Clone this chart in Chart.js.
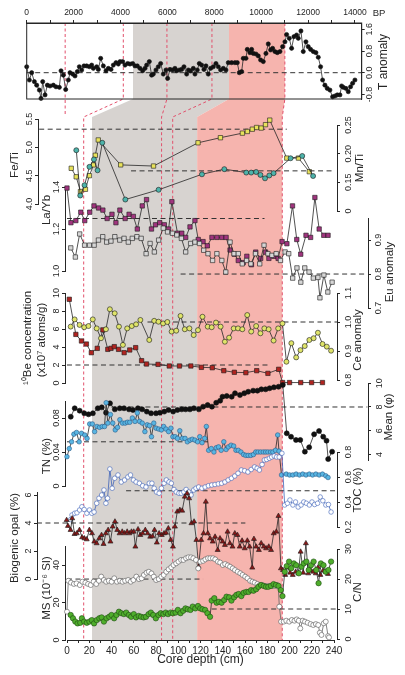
<!DOCTYPE html>
<html>
<head>
<meta charset="utf-8">
<title>Core proxies vs depth</title>
<script src="https://cdn.jsdelivr.net/npm/chart.js@4.4.1/dist/chart.umd.min.js"></script>
<style>
  html, body { margin: 0; padding: 0; background: #fff; }
  #stage { position: relative; width: 405px; height: 675px; overflow: hidden; background: #fff; }
  #stage canvas { position: absolute; left: 0; top: 0; }
</style>
</head>
<body>
<div id="stage"></div>
<script>
// ==========================================
// DATA
// ==========================================

// Top panel: temperature anomaly vs age (yr BP)
const bpAge = [0,114,213,327,426,540,611,682,782,881, 995,1137,1250,1393,1464,1563,1663,1776,1847,1961,
  2060,2160,2245,2345,2444,2558,2671,2771,2842,2984, 3055,3155,3268,3382,3481,3595,3695,3808,3908,3979,
  4092,4192,4306,4405,4519,4618,4718,4831,4945,5044, 5115,5229,5328,5400,5513,5612,5712,5826,5939,6010,
  6110,6224,6323,6394,6508,6607,6707,6821,6892,6991, 7105,7176,7275,7361,7460,7560,7645,7744,7844,7958,
  8071,8171,8270,8384,8498,8597,8739,8881,8981,9066, 9166,9237,9350,9407,9521,9592,9663,9776,9876,9975,
  10089,10203,10302,10402,10487,10586,10686,10800,10913,11013, 11084,11198,11297,11397,11510,11581,11695,11794,11908,12007,
  12107,12221,12334,12434,12533,12618,12718,12817,12931,13045, 13144,13244,13358,13429,13500,13613,13713,13812,13898,13997];
const tAnom = [0.22,-0.27,0,-0.33,-0.46,-0.64,-0.95,-0.33,-0.82,-0.46, -0.49,-0.46,-0.52,-0.54,0.07,-0.09,-0.62,-0.27,0,-0.05,
  -0.12,0.04,0.22,0.1,0.25,0.25,0.22,0.28,0.16,0.22, 0.12,0.53,0.25,0.07,0.16,0.12,0.28,0.37,0.32,0.41,
  0.41,0.28,0.34,0.32,0.34,0.25,0.25,0.16,0.07,0.16, 0.28,0.41,-0.09,-0.05,0.1,0.22,0.34,-0.05,0.1,-0.21,
  0.12,0.1,0.16,0.07,0.1,0.12,0.22,-0.05,0.1,0.07, 0.16,-0.05,0.1,0.34,0.28,0.12,0.25,-0.05,0.16,0.22,
  0.34,0.22,0.1,0.16,0.1,0.37,0.37,0.37,0.37,0, 0.04,0.53,0.53,0.86,0.74,0.86,0.71,0.69,0.62,0.47,
  0.41,0.71,1.06,0.84,0.9,0.78,0.74,0.78,0.96,1.14, 1.41,1.27,0.9,1.33,1.39,1.27,1.54,0.78,1.14,0.96,
  0.86,0.78,0.74,0.57,0.22,-0.27,-0.46,-0.58,-0.64,-0.89, -0.86,-0.82,-0.82,-0.49,-0.54,-0.58,-0.70,-0.52,-0.39,-0.27];

// Fe/Ti and Mn/Ti
const feDepth = [4.2,8.7,12.6,17.1,20.7,24.5,26.1,28.8,49.2,79.1,119.6,140,160,164.5,169,172.9,177.1,181,184.9,200.4,211,220.9];
const feTi = [4.63,4.48,4.22,4.26,4.5,4.69,4.86,5.13,4.69,4.67,5.08,5.17,5.25,5.28,5.32,5.35,5.34,5.4,5.48,4.81,4.81,4.57];
const mnDepth = [5.1,8.7,12.6,17.1,21.2,24.5,28.8,49.8,80.1,119.6,140,160,164.5,169,172.9,177.1,181,184.9,200.4,211,220.9];
const mnTi = [0.206,0.127,0.145,0.177,0.19,0.171,0.219,0.12,0.137,0.164,0.173,0.167,0.167,0.168,0.163,0.157,0.162,0.166,0.192,0.196,0.161];

// La/Yb
const laDepth = [0,3.6,8.1,12.6,16.2,20.7,24.6,28.8,32.7,36.6, 41,44.6,48.2,53,56.6,60.5,64.1,68.6,72.5,77,
  80.6,84.5,88.7,92.6,95.6,100.7,104.6,108.2,112.1,116.6, 119.6,124,127.9,132.1,136.6,141.1,145,148.6,152.5,156.1,
  160.6,163.9,168.1,172,176.5,181,184,188.5,192.4,196, 200.4,205.5,209.4,213,217.8,222,225.9,229.8,234,237.9];
const laYb = [1.395,1.23,1.24,1.28,1.24,1.28,1.31,1.30,1.29,1.25, 1.27,1.23,1.29,1.25,1.27,1.26,1.2,1.31,1.34,1.2,
  1.22,1.23,1.22,1.2,1.33,1.18,1.18,1.16,1.21,1.24, 1.15,1.14,1.12,1.16,1.16,1.16,1.16,1.1,1.08,1.05,
  1.04,1.07,1.03,1.09,1.06,1.09,1.06,1.07,1.06,1.14, 1.13,1.31,1.15,1.08,1.17,1.16,1.35,1.2,1.17,1.17];

// Eu anomaly
const euDepth = [0,4.2,8.1,12.6,17.1,21.3,25.2,29.1,32.7,36.6, 40.1,44.6,48.5,52.4,56,60.2,64.1,68.6,72.2,76.1,
  80,84.2,88.1,92.6,96.5,100.7,104.6,109.1,113,117.2, 121,124.9,129.1,133,137.5,141.1,145,148.6,152.5,156.1,
  160,163.9,168.1,172,175.9,179.5,183.1,187,190.9,195.1, 198.4,202,205.9,209.4,213,216.9,220.8,225,226.8,230.4, 234,237.9];
const euAnom = [0.877,0.85,0.918,0.885,0.885,0.885,0.9,0.91,0.894,0.897, 0.91,0.9,0.905,0.894,0.905,0.91,0.905,0.86,0.89,0.865,
  0.9,0.935,0.924,0.92,0.915,0.905,0.865,0.89,0.894,0.89, 0.87,0.86,0.84,0.86,0.84,0.806,0.894,0.86,0.86,0.83,
  0.84,0.83,0.86,0.83,0.885,0.86,0.855,0.86,0.84,0.865, 0.86,0.788,0.818,0.776,0.818,0.806,0.788,0.79,0.73,0.797, 0.747,0.776];

// 10Be concentration
const beDepth = [2.1,8.1,13.2,17.7,22.2,27.6,32.7,37.2,40.1,43.1, 47,52.1,57.2,62.6,68,72.5,83,93.2,102.5,112.9,
  122.5,132.4,142.9,152.5,163,172.9,183.1,192.9,196.5,202.8, 213,222.9,232.8];
const beConc = [9.3,5.4,4.67,4.33,3.37,3.85,5.9,3.74,3.85,4.04, 3.74,3.37,3.67,3.93,2.48,2.11,2.07,1.89,1.89,1.89,
  1.74,1.7,1.37,1.19,1.15,1.37,1.07,1.52,0.05,0.05, 0.05,0.05,0.05];

// Ce anomaly
const ceDepth = [0,3.6,8.1,12.3,16.2,20.1,23.7,27.6,32.1,35.7, 40.1,44,47.6,51.5,55.7,59.6,63.5,71.6,76.1,80,
  84.2,88.1,92,96.2,100.1,104,108.2,112.1,116,120.1, 124.9,128.5,132.4,136.6,140.5,144.4,148.6,152.5,156.4,160.9,
  164.5,169,172.9,176.5,180.4,184.9,189.1,193,196.6,201.1, 205.5,209.4,213.3,217.5,221.4,225.3,229.5,233.4,237.3];
const ceAnom = [0.984,1.009,0.99,0.982,0.986,1.009,0.978,0.944,0.975,1.044, 1.03,0.984,0.921,0.978,0.986,0.992,1.007,0.938,1.004,1.001,
  0.995,1.0,0.967,0.97,1.021,0.975,0.978,0.955,0.972,1.018, 0.984,0.982,0.998,0.984,0.932,0.946,0.978,0.978,0.975,1.024,
  0.967,0.986,0.961,0.978,0.975,0.936,0.978,0.995,0.863,0.927, 0.878,0.903,0.917,0.938,0.944,0.963,0.924,0.915,0.901];

// Mean grain size (phi)
const meanDepth = [0,3.6,8.1,12.3,16.2,20.1,24.6,28.2,32.1,35.7, 40.1,44.6,48.5,53,56.6,61.1,65,69.2,73.1,77.6,
  81.2,85.1,89,93.2,97.1,101,104.6,108.5,112.1,116.6, 120.5,124.6,128.5,132.4,136,138.1,142,146.5,149.5,154,
  157.9,161.5,166,169.9,173.5,177.4,181,184.9,189.1,193, 196.6,200.5,205,208.9,213.1,217,221.5,226,229.8,232.8, 234.3,237.9];
const meanPhi = [7.18,7.89,7.69,7.47,7.38,7.47,7.89,7.97,7.52,8.31, 7.8,7.89,7.89,7.8,7.75,7.89,7.8,7.61,7.47,7.47,
  7.52,7.61,7.75,7.61,7.75,7.8,7.8,7.8,7.89,7.8, 8.03,8.17,8.03,8.36,8.53,8.87,8.93,8.87,9.16,9.01,
  9.16,9.29,9.38,9.38,9.49,9.49,9.58,9.66,9.71,9.86, 5.78,5.49,5.22,5.22,4.23,4.6,5.7,5.97,5.49,5.16, 3.6,4.23];

// TN (%)
const tnDepth = [0,2.1,4.2,6.3,8.7,11.1,13.2,16.2,18.3,20.7, 23.1,25.2,27.3,29.7,32.1,34.2,35.7,37.2,39.6,41.7,
  44.0,46.1,48.2,50.6,53.0,55.1,57.2,59.6,62.0,64.1, 66.2,68.6,71.0,73.1,75.2,77.0,79.1,81.2,83.6,86.0,
  88.1,90.2,92.6,94.7,96.5,98.6,100.7,102.8,105.2,107.6, 109.7,112.1,114.2,116.6,119.0,121.0,123.1,125.5,127.0,129.1,
  131.5,133.9,136.0,138.1,140.5,142.9,145.0,147.1,149.5,151.9, 154.0,156.1,158.5,160.9,163.0,165.1,167.5,169.9,172.0,174.1,
  176.5,178.9,181.0,183.1,185.5,187.6,190.0,192.0,193.2,195.5, 199.8,202.8,205.8,208.8,211.8,214.8,217.8,220.8,223.8,226.8,
  229.8,232.8,235.8,237.9];
const tnPct = [0.0345,0.044,0.052,0.061,0.063,0.052,0.062,0.06,0.056,0.073, 0.073,0.064,0.07,0.069,0.07,0.07,0.098,0.074,0.084,0.074,
  0.066,0.069,0.078,0.074,0.074,0.075,0.075,0.08,0.076,0.086, 0.076,0.074,0.064,0.072,0.071,0.058,0.074,0.068,0.067,0.066,
  0.07,0.067,0.064,0.068,0.058,0.058,0.056,0.065,0.056,0.056, 0.052,0.054,0.055,0.054,0.052,0.058,0.051,0.056,0.07,0.042,
  0.044,0.040,0.045,0.046,0.042,0.052,0.043,0.046,0.048,0.047, 0.042,0.042,0.040,0.037,0.036,0.036,0.036,0.037,0.040,0.040,
  0.040,0.040,0.040,0.040,0.040,0.040,0.042,0.060,0.041,0.013, 0.014,0.013,0.013,0.014,0.013,0.014,0.013,0.014,0.013,0.014,
  0.013,0.014,0.012,0.010];

// TOC (%)
const tocDepth = [0,1.2,3.6,5.7,8.1,10.2,12.3,14.7,17.1,19.2, 21.3,23.7,25.8,28.2,30.3,32.1,33.6,35.7,37.8,40.1,
  43.1,46.1,49.1,52.1,54.5,57.2,59.6,62.6,65.6,68.6, 71.6,74.0,76.1,78.2,80.6,82.7,85.1,87.2,89.6,91.7,
  94.1,96.2,98.6,100.7,103.1,105.2,107.6,109.7,112.1,114.2, 116.6,119.6,122.5,125.5,128.5,131.5,134.5,137.5,140.5,143.5,
  146.5,149.5,152.5,155.5,158.5,161.5,164.5,167.5,169.9,172.0, 174.4,176.5,178.6,181.0,183.1,185.5,187.6,190.0,192.5,195.0,
  197.5,199.8,202.5,204.9,207.3,210.0,212.4,214.8,217.5,219.9, 222.3,225.0,227.4,229.8,232.5,234.9,237.3];
const tocPct = [0.26,0.296,0.31,0.314,0.336,0.362,0.34,0.31,0.336,0.31, 0.32,0.39,0.43,0.456,0.496,0.39,0.43,0.664,0.51,0.59,
  0.616,0.56,0.576,0.6,0.616,0.576,0.56,0.55,0.53,0.52, 0.55,0.55,0.51,0.48,0.47,0.51,0.55,0.576,0.56,0.55,
  0.5,0.48,0.47,0.47,0.48,0.5,0.48,0.456,0.496,0.51, 0.52,0.51,0.52,0.53,0.536,0.54,0.545,0.55,0.56,0.576,
  0.59,0.608,0.63,0.656,0.65,0.64,0.66,0.68,0.67,0.656, 0.70,0.736,0.74,0.75,0.76,0.768,0.76,0.76,0.79,0.376,
  0.39,0.416,0.376,0.4,0.36,0.376,0.4,0.39,0.376,0.4, 0.38,0.39,0.44,0.41,0.376,0.38,0.32];

// Biogenic opal (%)
const opalDepth = [0,1.2,3.6,5.1,7.2,9.3,11.7,14.1,16.2,18.3, 20.7,23.1,25.2,27.3,29.7,31.8,33.6,35.7,37.8,39.9,
  41.9,44.0,46.1,48.2,50.6,52.7,55.1,57.2,59.0,61.1, 62.6,65.0,67.1,69.2,71.6,73.7,76.1,78.2,80.0,82.1,
  84.2,86.6,88.7,90.5,92.6,94.7,96.8,98.6,100.7,103.1, 105.2,107.6,109.7,111.5,113.6,116.0,118.1,120.1,122.5,124.6,
  126.7,128.5,130.6,133.0,135.1,137.5,139.6,142.0,144.1,146.5, 148.6,151.0,153.1,155.5,157.6,159.7,162.1,164.5,166.6,169.0,
  170.5,172.6,175.0,177.1,179.5,181.6,184.0,186.1,188.5,190.9, 192.8,195.1,196.9,199.0,201.0,203.4,205.8,208.5,210.9,213.0,
  215.4,217.8,219.9,222.3,224.4,226.8,228.9,231.0,233.4,235.8, 237.9];
const opalPct = [4.21,3.79,3.5,4.33,3.21,3.26,3.5,2.98,2.9,2.83, 3.5,3.26,2.67,2.55,2.9,3.14,2.5,3.26,3.5,2.67,
  3.74,4.1,3.5,3.26,3.38,3.26,3.38,3.26,3.38,3.38, 2.31,3.55,3.14,3.26,3.5,3.26,3.02,3.05,3.5,2.6,
  3.26,3.14,3.26,3.3,3.62,2.79,2.31,3.74,4.81,4.93, 4.88,5.88,6.12,5.76,3.98,4.1,2.79,0.88,2.79,3.26,
  5.52,3.26,2.9,2.67,3.02,2.07,2.9,2.67,2.43,3.38, 2.55,2.31,3.26,3.14,2.31,2.74,2.19,2.74,2.31,0.81,
  2.86,2.31,2.07,2.55,2.31,2.19,2.31,2.07,3.26,3.38, 4.5,0.76,0.64,0.29,0.83,0.45,0.29,0.52,0.4,1.95,
  0.45,2.55,0.4,0.6,0.52,0.4,0.83,0.29,0.6,0.52, 0.36];

// Magnetic susceptibility (10^-6 SI)
const msDepth = [0,1.2,3.6,6.3,8.7,11.7,14.1,16.8,19.2,21.6, 24.3,26.7,29.1,31.2,33.6,35.7,38.1,40.7,43.1,45.5,
  48.2,50.6,53.0,55.7,58.1,60.5,63.2,65.6,68.0,70.1, 72.5,74.6,77.0,79.1,81.2,83.6,86.0,88.1,90.5,92.6,
  95.0,97.1,99.5,101.6,104.0,106.1,108.5,110.6,113.0,115.1, 117.5,119.6,121.6,124.0,126.1,128.5,130.6,133.0,135.1,137.5,
  139.6,142.0,144.1,146.5,148.6,151.0,153.1,155.5,157.9,160.0, 162.4,164.5,166.9,169.0,171.1,173.5,175.6,178.0,180.1,182.5,
  184.9,187.0,189.1,191.5,192.5,193.5,195.1,197.5,199.8,202.5, 204.9,207.3,209.4,211.2,212.6,214.8,216.9,219.3,222.0,224.4,
  226.8,228.9,230.4,231.9,234.0,235.8,237.9,238.8];
const msSI = [15.1,31.6,30.6,29.9,30.2,29.3,31.1,30.6,29.9,29.3, 31.1,29.9,31.6,33.8,32,31.1,31.6,31.1,32.9,31.1,
  31.6,31.1,31.6,32,31.1,32,33.8,32.5,32.9,34.7, 35.9,36.4,35.5,33.8,32,32.5,33.8,34.7,36.4,37.7,
  38.8,40,40.9,41.8,42.7,42.7,43.6,44.1,44.1,43.6, 42.7,38.2,41.8,42.2,43,43.6,43.6,43.6,43,41.8,
  41.3,40,40.5,39.8,39.1,38.2,37.3,36.4,35.6,34.7, 33.8,32.9,31.6,31.1,30.6,29.9,29.3,29.3,28.8,28.8,
  28.8,28.8,28.8,29.3,28.4,17.8,9.8,9.8,10.3,9.8, 10.7,10.3,11,10.3,6.2,10.3,9.8,9.2,8.5,8,
  8.5,8,3.9,2.7,8.9,9.8,2.1,1.4];

// C/N
const cnDepth = [0,2.1,4.2,6.3,8.7,10.2,12.3,14.7,17.1,19.2, 21.3,23.7,26.1,28.2,30.3,32.7,35.1,37.2,39.6,41.7,
  44.0,46.1,48.5,50.6,53.0,55.1,57.5,59.6,62.0,64.1, 66.5,68.6,71.0,73.1,75.2,77.6,80.0,82.1,84.5,86.6,
  88.7,91.1,93.2,95.6,97.7,100.1,102.5,104.6,106.7,109.1, 111.2,113.6,116.0,118.1,120.1,122.5,124.6,127.0,128.5,130.9,
  133.0,135.1,137.5,139.9,142.0,144.4,146.5,148.9,151.0,153.1, 155.5,157.6,160.0,162.1,164.5,166.6,169.0,171.1,173.5,175.9,
  178.0,180.1,182.5,184.9,187.0,189.4,191.5,193.0,195.1,196.9, 199.0,201.0,203.4,205.5,207.9,210.3,212.4,214.8,216.9,219.0,
  221.4,223.8,225.9,228.0,230.4,232.5,234.9,237.3];
const cnRatio = [8,6.9,5.8,5.2,5.4,6.9,5.8,5.4,5.8,6.3, 5.2,6.3,6.9,7.2,5.8,6.9,7.4,8,6.9,8,
  9.1,8.6,8.3,8.8,8,7.4,8.3,7.2,7.7,7.4, 7.2,7.4,8.3,8.8,8,6.9,8,8.6,8.3,8.8,
  8.3,8.8,8.6,8.8,9.7,8.6,9.4,10.2,9.9,9.7, 10.8,10.2,11,10.2,9.9,9.7,8.6,7.4,12.8,13.6,
  12.1,12.4,12.1,13,14.1,13.9,12.8,13.9,14.7,15, 14.3,15.4,15.7,15.7,16.3,16.1,16.6,17.4,18,17.7,
  17.4,17.4,17.7,18.3,18,17.7,16.3,14.3,22.4,24.3, 25.8,23.6,25.2,24.6,21.9,24.1,25.2,25.8,23,24.6,
  25.8,23,18.6,25.2,24.6,22.4,23,25.8];

// Tick values
const bpTicks = [0,1000,2000,3000,4000,5000,6000,7000,8000,9000,10000,11000,12000,13000,14000];
const depthTicks = [0,10,20,30,40,50,60,70,80,90,100,110,120,130,140,150,160,170,180,190,200,210,220,230,240];
const tTicks = [-0.8, 0, 0.8, 1.6];

// Shaded intervals (age on top panel, depth below) and tie lines (age -> depth)
const greyBand = { bp: [4533, 8627], depth: [22.5, 117] };
const pinkBand = { bp: [8627, 11010], depth: [117, 193.5] };
const tieLines = [[1640, null], [4120, 15], [5980, 85], [7900, 95], [11010, 193.5]];

// ==========================================
// LAYOUT
// ==========================================
const W = 405, H = 675;
const K = 1.1125, X0 = 67;              // px per cm, pixel of depth 0
const TOP_L = 26.7, TOP_R = 361.7, TOP_T = 23, TOP_B = 99;
const BPK = 0.023449;                    // px per year on the age axis
const LINK_Y = 117, AXIS_Y = 640;
const TL = 3;
const TICK_FONT = 9, TITLE_FONT = 11.5;
const FAM = '"Liberation Sans", Arial, sans-serif';
const INK = '#262626';
const GREY = '#d7d3d0', PINK = '#f6b4ae', RED = '#e2506c';

Chart.defaults.font.family = FAM;
Chart.defaults.font.size = TICK_FONT;
Chart.defaults.color = INK;

const stage = document.getElementById('stage');
function newCtx() {
  const c = document.createElement('canvas');
  c.width = W; c.height = H;
  c.style.width = W + 'px'; c.style.height = H + 'px';
  stage.appendChild(c);
  return c.getContext('2d');
}

const measure = document.createElement('canvas').getContext('2d');
function textWidth(s) {
  measure.font = TICK_FONT + 'px ' + FAM;
  return measure.measureText(s).width;
}

const common = { responsive: false, animation: false, devicePixelRatio: 1, events: [] };

// ==========================================
// PLUGINS
// ==========================================
const bandPlugin = {
  id: 'bands',
  beforeDraw(chart) {
    const { ctx } = chart;
    const d = chart.scales.x, b = chart.scales.bp;
    ctx.save();
    [[greyBand, GREY], [pinkBand, PINK]].forEach(([band, col]) => {
      const b0 = b.getPixelForValue(band.bp[0]), b1 = b.getPixelForValue(band.bp[1]);
      const d0 = d.getPixelForValue(band.depth[0]), d1 = d.getPixelForValue(band.depth[1]);
      ctx.beginPath();
      ctx.moveTo(b0, TOP_T); ctx.lineTo(b1, TOP_T); ctx.lineTo(b1, TOP_B);
      ctx.lineTo(d1, LINK_Y); ctx.lineTo(d1, AXIS_Y); ctx.lineTo(d0, AXIS_Y);
      ctx.lineTo(d0, LINK_Y); ctx.lineTo(b0, TOP_B);
      ctx.closePath();
      ctx.fillStyle = col;
      ctx.fill();
    });
    ctx.setLineDash([3, 2.5]);
    ctx.strokeStyle = RED;
    ctx.lineWidth = 1;
    tieLines.forEach(([age, depth]) => {
      const bx = b.getPixelForValue(age);
      ctx.beginPath();
      ctx.moveTo(bx, TOP_T); ctx.lineTo(bx, TOP_B);
      if (depth === null) {
        ctx.lineTo(bx, LINK_Y - 1);
      } else {
        const dx = d.getPixelForValue(depth);
        ctx.lineTo(dx, LINK_Y); ctx.lineTo(dx, AXIS_Y);
      }
      ctx.stroke();
    });
    ctx.restore();
  }
};

// dashed reference lines, given in data units of the chart's own x / y scales
function refPlugin(lines) {
  return {
    id: 'refs',
    beforeDatasetsDraw(chart) {
      const { ctx } = chart;
      const x = chart.scales.x, y = chart.scales.y;
      ctx.save();
      ctx.setLineDash([5, 3.5]);
      ctx.strokeStyle = '#333';
      ctx.lineWidth = 1;
      lines.forEach(l => {
        const py = y.getPixelForValue(l.v);
        ctx.beginPath();
        ctx.moveTo(x.getPixelForValue(l.from), py);
        ctx.lineTo(x.getPixelForValue(l.to), py);
        ctx.stroke();
      });
      ctx.restore();
    }
  };
}

// axis titles, rotated like R's mtext (reading bottom to top)
function titlePlugin(items) {
  return {
    id: 'axisTitles',
    afterDraw(chart) {
      const { ctx } = chart;
      items.forEach(it => {
        ctx.save();
        ctx.translate(it.x, it.y);
        if (it.rotate !== false) ctx.rotate(-Math.PI / 2);
        ctx.font = (it.size || TITLE_FONT) + 'px ' + FAM;
        ctx.fillStyle = INK;
        ctx.textAlign = 'center';
        ctx.textBaseline = 'middle';
        ctx.fillText(it.text, 0, 0);
        ctx.restore();
      });
    }
  };
}

const framePlugin = {
  id: 'frame',
  afterDraw(chart) {
    const { ctx, chartArea: a } = chart;
    ctx.save();
    ctx.strokeStyle = INK;
    ctx.lineWidth = 1;
    ctx.strokeRect(a.left, a.top, a.right - a.left, a.bottom - a.top);
    ctx.restore();
  }
};

// ==========================================
// HELPERS
// ==========================================
function series(xs, ys, st) {
  return {
    data: xs.map((x, i) => ({ x, y: ys[i] })),
    borderColor: st.line || INK,
    borderWidth: 0.8,
    pointStyle: st.shape || 'circle',
    pointRadius: st.r,
    pointBackgroundColor: st.fill,
    pointBorderColor: st.edge || '#1a1a1a',
    pointBorderWidth: 0.6,
    clip: false
  };
}

function yAxis(side, min, max, ticks, fmt, labelX, axisX, width) {
  const widest = Math.max(...ticks.map(v => textWidth(fmt(v))));
  const pad = Math.abs(labelX - axisX) - TL - widest / 2;
  return {
    type: 'linear', position: side, min, max,
    afterFit: s => { s.width = width; },
    afterBuildTicks: s => { s.ticks = ticks.map(v => ({ value: v })); },
    ticks: { minRotation: 90, maxRotation: 90, crossAlign: 'center', padding: pad,
             autoSkip: false, callback: v => fmt(v) },
    grid: { drawOnChartArea: false, drawTicks: true, tickLength: TL, color: INK, lineWidth: 1 },
    border: { display: true, color: INK, width: 1 }
  };
}

function panel(p) {
  const left = p.side === 'left';
  const cl = left ? p.axisX : 0;
  const cr = left ? W : p.axisX;
  return new Chart(newCtx(), {
    type: 'line',
    data: { datasets: p.sets },
    options: {
      ...common,
      layout: { padding: { top: p.top, bottom: H - p.bottom, left: 0, right: 0 } },
      plugins: { legend: { display: false }, tooltip: { enabled: false } },
      scales: {
        x: { type: 'linear', display: false, min: (cl - X0) / K, max: (cr - X0) / K },
        y: yAxis(p.side, p.min, p.max, p.ticks, p.fmt, p.labelX, p.axisX, left ? p.axisX : W - p.axisX)
      }
    },
    plugins: [refPlugin(p.refs || []), titlePlugin(p.titles)]
  });
}

const f1 = v => v.toFixed(1);
const f0 = v => String(v);

// ==========================================
// BACKGROUND: shading, tie lines, depth axis
// ==========================================
new Chart(newCtx(), {
  type: 'line',
  data: { datasets: [] },
  options: {
    ...common,
    layout: { padding: { left: X0, right: W - (X0 + 240 * K), top: 0, bottom: 0 } },
    plugins: { legend: { display: false }, tooltip: { enabled: false } },
    scales: {
      x: {
        type: 'linear', position: 'bottom', min: 0, max: 240,
        afterFit: s => { s.height = H - AXIS_Y; },
        afterBuildTicks: s => { s.ticks = depthTicks.map(v => ({ value: v })); },
        ticks: { autoSkip: false, maxRotation: 0, padding: 2, font: { size: 10 },
                 callback: v => (v % 20 ? '' : String(v)) },
        grid: { drawOnChartArea: false, tickLength: TL, color: INK },
        border: { display: true, color: INK },
        title: { display: true, text: 'Core depth (cm)', font: { size: 12 }, padding: { top: 0, bottom: 8.5 } }
      },
      bp: { type: 'linear', axis: 'x', display: false,
            min: (X0 - TOP_L) / BPK, max: (X0 + 240 * K - TOP_L) / BPK },
      y: { display: false, min: 0, max: 1 }
    }
  },
  plugins: [bandPlugin]
});

// ==========================================
// TOP PANEL: T anomaly vs age
// ==========================================
new Chart(newCtx(), {
  type: 'line',
  data: { datasets: [series(bpAge, tAnom, { fill: '#111', edge: '#111', r: 2.1 })] },
  options: {
    ...common,
    layout: { padding: { top: 0, left: TOP_L, right: 0, bottom: H - TOP_B } },
    plugins: { legend: { display: false }, tooltip: { enabled: false } },
    scales: {
      x: {
        type: 'linear', position: 'top', min: 0, max: (TOP_R - TOP_L) / BPK,
        afterFit: s => { s.height = TOP_T; },
        afterBuildTicks: s => { s.ticks = bpTicks.map(v => ({ value: v })); },
        ticks: { autoSkip: false, maxRotation: 0, padding: 2.5, font: { size: 8.5 },
                 callback: v => (v % 2000 ? '' : String(v)) },
        grid: { drawOnChartArea: false, tickLength: TL, color: INK },
        border: { display: true, color: INK }
      },
      y: yAxis('right', -(TOP_B - 72.7) / 27.1, (72.7 - TOP_T) / 27.1, tTicks, f1, 370, TOP_R, W - TOP_R)
    }
  },
  plugins: [refPlugin([{ v: 0, from: 0, to: 14280 }]), framePlugin,
            titlePlugin([{ text: 'T anomaly', x: 384, y: 62, size: 12 },
                         { text: 'BP', x: 379, y: 13, rotate: false, size: 9.5 }])]
});

// ==========================================
// LOWER PANELS
// ==========================================
const ST = {
  fe:   { fill: '#e8e25c', shape: 'rect', r: 3.1 },
  mn:   { fill: '#4db3aa', r: 2.5 },
  la:   { fill: '#a0347e', shape: 'rect', r: 3.1 },
  eu:   { fill: '#d6d6d6', shape: 'rect', r: 3.1 },
  be:   { fill: '#b02420', shape: 'rect', r: 3.1 },
  ce:   { fill: '#dfe46a', r: 2.5 },
  mean: { fill: '#111', edge: '#111', r: 2.5 },
  tn:   { fill: '#58b5e2', edge: '#2a5d8a', r: 2.3 },
  toc:  { fill: '#ffffff', edge: '#3d62b8', line: '#3d62b8', r: 2.3 },
  opal: { fill: '#8a1818', shape: 'triangle', r: 2.9 },
  ms:   { fill: '#ffffff', edge: '#555', line: '#666', r: 2.5 },
  cn:   { fill: '#4fae2c', edge: '#1f4a12', r: 2.7 }
};

panel({ side: 'left', axisX: 38, labelX: 30, min: 4.0, max: 5.5, top: 119, bottom: 204,
  ticks: [4, 4.5, 5, 5.5], fmt: f1, sets: [series(feDepth, feTi, ST.fe)],
  refs: [{ v: 5.32, from: -25, to: 200.4 }],
  titles: [{ text: 'Fe/Ti', x: 15, y: 165 }] });

panel({ side: 'right', axisX: 337, labelX: 349, min: 0.10, max: 0.25, top: 125, bottom: 211,
  ticks: [0.10, 0.15, 0.20, 0.25], fmt: v => (v === 0.10 ? '0' : v.toFixed(2)),
  sets: [series(mnDepth, mnTi, ST.mn)],
  refs: [{ v: 0.17, from: 55, to: 239 }],
  titles: [{ text: 'Mn/Ti', x: 360, y: 168 }] });

panel({ side: 'left', axisX: 65, labelX: 57, min: 1.0, max: 1.4, top: 187, bottom: 271,
  ticks: [1.0, 1.2, 1.4], fmt: f1, sets: [series(laDepth, laYb, ST.la)],
  refs: [{ v: 1.25, from: 0, to: 180 }],
  titles: [{ text: 'La/Yb', x: 47, y: 210 }] });

panel({ side: 'right', axisX: 368, labelX: 379, min: 0.7, max: 0.965, top: 218, bottom: 308,
  ticks: [0.7, 0.8, 0.9], fmt: f1, sets: [series(euDepth, euAnom, ST.eu)],
  refs: [{ v: 0.8, from: 100, to: 270 }],
  titles: [{ text: 'Eu anomaly', x: 390, y: 272 }] });

panel({ side: 'left', axisX: 65, labelX: 57, min: 0, max: 10, top: 293, bottom: 383,
  ticks: [0, 2, 4, 6, 8, 10], fmt: f0, sets: [series(beDepth, beConc, ST.be)],
  refs: [{ v: 2, from: 0, to: 185 }],
  titles: [{ text: '\u00B9\u2070Be concentration', x: 28, y: 338 },
           { text: '(x10\u2077 atoms/g)', x: 42, y: 340 }] });

panel({ side: 'right', axisX: 337, labelX: 349, min: 0.8, max: 1.1, top: 293, bottom: 380,
  ticks: [0.8, 0.9, 1.0, 1.1], fmt: f1, sets: [series(ceDepth, ceAnom, ST.ce)],
  refs: [{ v: 1.0, from: 70, to: 242.7 }],
  titles: [{ text: 'Ce anomaly', x: 358, y: 340 }] });

panel({ side: 'right', axisX: 368, labelX: 380, min: 3.5, max: 10, top: 383.3, bottom: 460.3,
  ticks: [4, 6, 8, 10], fmt: f0, sets: [series(meanDepth, meanPhi, ST.mean)],
  refs: [{ v: 8, from: 37, to: 270 }],
  titles: [{ text: 'Mean (\u03C6)', x: 389, y: 417 }] });

panel({ side: 'left', axisX: 65, labelX: 57, min: 0, max: 0.1, top: 401, bottom: 486,
  ticks: [0, 0.04, 0.08], fmt: v => (v === 0 ? '0' : v.toFixed(2)), sets: [series(tnDepth, tnPct, ST.tn)],
  refs: [{ v: 0.052, from: 0, to: 131.5 }],
  titles: [{ text: 'TN (%)', x: 47, y: 456 }] });

panel({ side: 'right', axisX: 337, labelX: 349, min: 0.2, max: 0.8, top: 452, bottom: 527,
  ticks: [0.2, 0.4, 0.6, 0.8], fmt: f1, sets: [series(tocDepth, tocPct, ST.toc)],
  refs: [{ v: 0.49, from: 50.5, to: 242.7 }],
  titles: [{ text: 'TOC (%)', x: 358, y: 490 }] });

panel({ side: 'left', axisX: 37, labelX: 29, min: 0, max: 6.2, top: 492.2, bottom: 579,
  ticks: [0, 2, 4, 6], fmt: f0, sets: [series(opalDepth, opalPct, ST.opal)],
  refs: [{ v: 4, from: -27, to: 162.7 }],
  titles: [{ text: 'Biogenic opal (%)', x: 15, y: 538 }] });

panel({ side: 'left', axisX: 65, labelX: 57, min: 0, max: 50, top: 546.25, bottom: 640,
  ticks: [0, 20, 40], fmt: f0, sets: [series(msDepth, msSI, ST.ms)],
  refs: [{ v: 32.5, from: 0, to: 124 }],
  titles: [{ text: 'MS (10\u207B\u2076 SI)', x: 47, y: 588 }] });

panel({ side: 'right', axisX: 337, labelX: 349, min: 0, max: 30, top: 549, bottom: 639,
  ticks: [0, 10, 20, 30], fmt: f0, sets: [series(cnDepth, cnRatio, ST.cn)],
  refs: [{ v: 10, from: 128.5, to: 242.7 }],
  titles: [{ text: 'C/N', x: 358, y: 592 }] });
</script>
</body>
</html>
